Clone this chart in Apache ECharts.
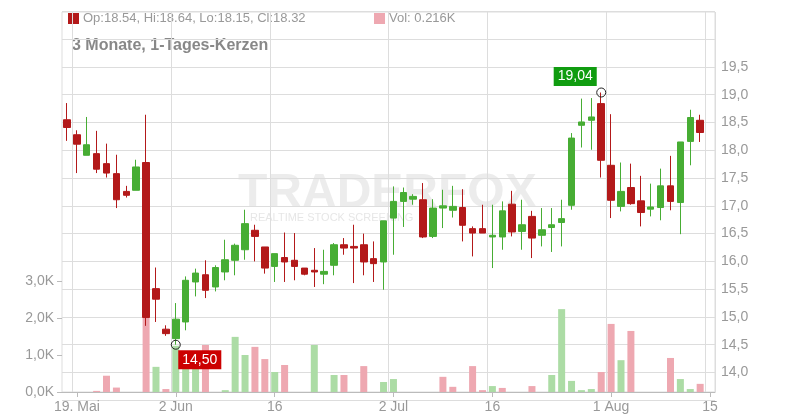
<!DOCTYPE html>
<html><head><meta charset="utf-8">
<script src="https://cdn.jsdelivr.net/npm/echarts@6/dist/echarts.min.js"></script>
<style>html,body{margin:0;padding:0;background:#fff}#c{width:800px;height:420px}</style>
</head><body><div id="c"></div>
<script>
const tickLabels = {1:'19. Mai',11:'2 Jun',21:'16',33:'2 Jul',43:'16',55:'1 Aug',65:'15'};
const opens  = [18.55,18.28,17.91,17.94,17.76,17.58,17.26,17.28,17.78,15.51,14.78,14.61,14.91,15.63,15.76,15.54,15.81,16.02,16.21,16.56,16.26,15.91,16.07,16.02,15.88,15.84,15.77,15.93,16.30,16.27,16.30,16.05,15.99,16.78,17.08,17.12,17.11,16.45,16.96,16.92,16.97,16.59,16.59,16.44,16.44,17.03,16.54,16.81,16.47,16.61,16.70,17.01,18.45,18.54,18.84,17.73,16.99,17.33,17.09,16.94,16.97,17.36,17.06,18.16,18.54];
const closes = [18.41,18.11,18.10,17.66,17.59,17.11,17.19,17.70,14.99,15.32,14.70,14.96,15.66,15.79,15.48,15.89,16.03,16.29,16.68,16.45,15.88,16.14,15.99,15.91,15.77,15.81,15.82,16.30,16.24,16.24,15.99,15.96,16.73,17.08,17.24,17.17,16.44,16.96,17.00,16.99,16.65,16.51,16.51,16.47,16.91,16.53,16.66,16.42,16.57,16.66,16.77,18.22,18.51,18.60,17.82,17.10,17.26,17.04,16.88,16.98,17.36,17.08,18.15,18.59,18.32];
const lows   = [18.17,17.59,17.91,17.59,17.51,16.96,17.15,17.28,14.84,14.91,14.66,14.50,14.76,15.37,15.34,15.46,15.66,15.75,16.03,16.00,15.78,15.63,15.63,15.66,15.75,15.54,15.59,15.75,16.12,15.61,15.75,15.63,15.49,16.12,16.62,17.02,16.42,16.42,16.60,16.79,16.36,16.09,16.51,15.88,16.21,16.45,16.21,16.06,16.27,16.17,16.27,16.93,18.05,18.01,17.51,16.78,16.90,17.02,16.63,16.81,16.74,16.92,16.49,17.73,18.15];
const highs  = [18.85,18.36,18.60,18.35,18.12,17.92,17.36,17.83,18.64,15.89,14.85,15.25,15.73,15.87,16.02,15.93,16.39,16.32,16.93,16.66,16.26,16.14,16.52,16.51,15.88,16.24,16.21,16.33,16.42,16.66,16.50,16.36,16.73,17.35,17.33,17.21,17.41,17.12,17.29,17.36,17.30,16.63,17.02,17.02,17.08,17.27,17.11,16.91,16.96,16.96,17.11,18.31,18.93,18.94,19.04,18.65,17.78,17.76,17.54,17.40,17.67,17.90,18.15,18.73,18.64];
const volumes = [0,0,0,0.03,0.44,0.12,0,0,2.0,0.68,0.08,1.25,0.78,0.8,1.27,0,0.05,1.49,1.0,1.22,0.89,0.54,0.73,0,0,1.27,0,0.46,0.46,0,0.70,0,0.27,0.35,0,0,0,0,0.41,0.14,0,0.70,0.05,0.16,0.11,0,0,0.16,0,0.46,2.24,0.30,0.05,0.08,0.54,1.84,0.86,1.65,0,0,0,0.92,0.35,0.08,0.22];
const volUp = [0,0,0,0,0,0,0,0,0,1,0,1,1,1,0,0,1,1,1,0,0,1,0,0,0,1,0,1,0,0,0,0,1,1,0,0,0,0,0,0,0,0,0,1,0,0,0,0,0,1,1,1,1,1,0,0,1,0,0,0,0,0,1,1,0];
const priceTicks = [14,14.5,15,15.5,16,16.5,17,17.5,18,18.5,19,19.5];
const volTicks = [0,1,2,3];

const N = 66;
const cats = Array.from({length:N},(_,i)=>String(i));
const candles = opens.map((o,i)=>[o,closes[i],lows[i],highs[i]]);
const vols = volumes.map((v,i)=>({value:v,itemStyle:{color:volUp[i]?'#acdca5':'#eea8b1'}}));
const isTick = (i)=>tickLabels[i]!==undefined;
const GREEN='#47ad34', RED='#b3191a', GRID='#dddddd', TXT='#999999';
const fmt = v=>v.toFixed(1).replace('.',',');
const lowIdx = 11, highIdx = 54;

const chart = echarts.init(document.getElementById('c'));
chart.setOption({
  animation:false,
  textStyle:{fontFamily:'Liberation Sans, Arial, sans-serif'},
  graphic:[
    {type:'rect',shape:{x:68,y:13,width:11,height:11},style:{fill:RED}},
    {type:'text',left:83,top:12,style:{text:'Op:18.54, Hi:18.64, Lo:18.15, Cl:18.32',fill:TXT,font:'13px Liberation Sans'}},
    {type:'rect',shape:{x:374,y:13,width:11,height:11},style:{fill:'#eea8b1'}},
    {type:'text',left:389,top:12,style:{text:'Vol: 0.216K',fill:TXT,font:'13px Liberation Sans'}},
    {type:'text',left:72,top:38,style:{text:'3 Monate, 1-Tages-Kerzen',fill:'#888',font:'bold 16px Liberation Sans'}},
    {type:'text',left:238,top:170,z:0,style:{text:'TRADERFOX',fill:'rgba(200,200,200,0.35)',font:'bold 48px Liberation Sans'}},
    {type:'text',left:250,top:212,z:0,style:{text:'REALTIME STOCK SCREENING',fill:'rgba(200,200,200,0.45)',font:'11px Liberation Sans'}}
  ],
  grid:[
    {left:62,right:85,top:11.4,bottom:19.7,show:false},
    {left:62,right:85,top:281,bottom:28,show:false},
    {left:62,right:85,top:12,bottom:28,show:true,borderColor:GRID,backgroundColor:'transparent'}
  ],
  xAxis:[
    {type:'category',data:cats,gridIndex:0,show:false,boundaryGap:true},
    {type:'category',data:cats,gridIndex:1,boundaryGap:true,
     axisLine:{show:true,lineStyle:{color:'#bbb'}},
     axisTick:{show:true,alignWithLabel:true,interval:(i)=>isTick(i),lineStyle:{color:'#bbb'}},
     axisLabel:{interval:(i)=>isTick(i),formatter:(v,i)=>tickLabels[i]||'',color:TXT,fontSize:14,margin:8},
     splitLine:{show:false}},
    {type:'category',data:cats,gridIndex:2,boundaryGap:true,show:true,
     axisLine:{show:false},axisTick:{show:false},axisLabel:{show:false},
     splitLine:{show:true,interval:(i)=>isTick(i),lineStyle:{color:GRID}}}
  ],
  yAxis:[
    {type:'value',gridIndex:0,position:'right',min:13.5,max:20.5,interval:0.5,
     axisLine:{show:false},axisTick:{show:false},
     axisLabel:{color:TXT,fontSize:14,margin:6,formatter:(v)=>priceTicks.includes(v)?fmt(v):''},
     splitLine:{show:true,lineStyle:{color:GRID},interval:0}},
    {type:'value',gridIndex:1,position:'left',min:0,max:3,interval:1,
     axisLine:{show:false},axisTick:{show:true,length:5,lineStyle:{color:'#bbb'}},
     axisLabel:{color:TXT,fontSize:14,margin:8,formatter:(v)=>volTicks.includes(v)?fmt(v)+'K':''},
     splitLine:{show:false}},
    {type:'value',gridIndex:2,show:false,splitLine:{show:false}}
  ],
  series:[
    {type:'bar',xAxisIndex:1,yAxisIndex:1,data:vols,barWidth:7,z:1},
    {type:'candlestick',xAxisIndex:0,yAxisIndex:0,data:candles,barWidth:7,z:3,
     itemStyle:{color:GREEN,color0:RED,borderColor:GREEN,borderColor0:RED,borderWidth:1},
     markPoint:{symbol:'circle',symbolSize:9,silent:true,
       itemStyle:{color:'rgba(255,255,255,0)',borderColor:'#222',borderWidth:1},
       data:[
        {coord:[String(highIdx),highs[highIdx]],label:{show:true,formatter:fmt2(highs[highIdx]),backgroundColor:'#109c10',color:'#fff',fontSize:14,padding:[3,4,2,4],offset:[-26,-16]}},
        {coord:[String(lowIdx),lows[lowIdx]],label:{show:true,formatter:fmt2(lows[lowIdx]),backgroundColor:'#cc0000',color:'#fff',fontSize:14,padding:[3,4,2,4],offset:[24,15]}}
       ]}}
  ]
});
function fmt2(v){return v.toFixed(2).replace('.',',');}
</script></body></html>
